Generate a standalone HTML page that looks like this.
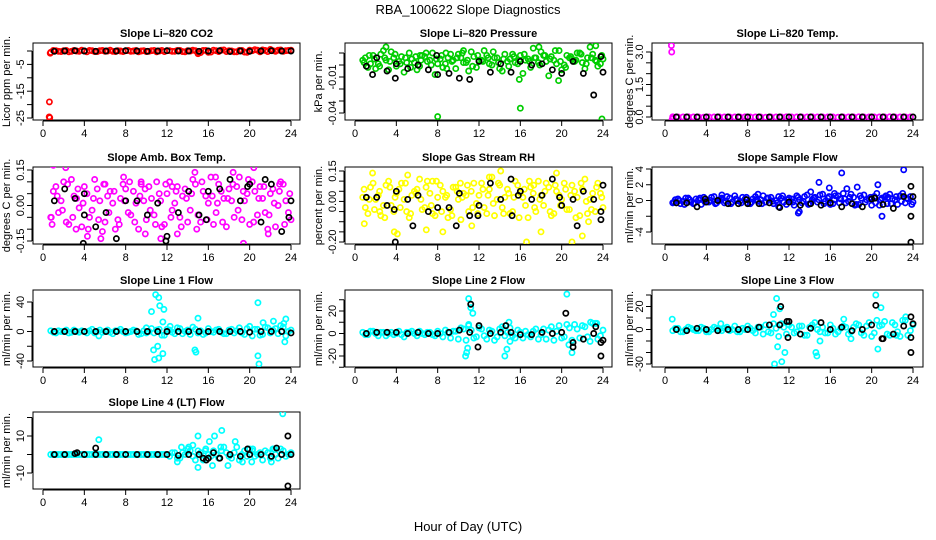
<!DOCTYPE html>
<html><head><meta charset="utf-8"><title>RBA_100622 Slope Diagnostics</title>
<style>
html,body{margin:0;padding:0;background:#fff;}
svg{display:block;font-family:"Liberation Sans",Arial,sans-serif;}
</style></head>
<body>
<svg id="chart" width="936" height="540" viewBox="0 0 936 540" xmlns="http://www.w3.org/2000/svg">
<rect x="0" y="0" width="936" height="540" fill="#fff"/>
<text x="468" y="14" text-anchor="middle" font-size="13">RBA_100622  Slope Diagnostics</text>
<text x="468" y="531" text-anchor="middle" font-size="13">Hour of Day (UTC)</text>
</svg>
<script>
// shared categories
const hoursC = [0.75,1.25,1.75,2.25,2.75,3.25,3.75,4.25,4.75,5.25,5.75,6.25,6.75,7.25,7.75,8.25,8.75,9.25,9.75,10.25,10.75,11.25,11.75,12.25,12.75,13.25,13.75,14.25,14.75,15.25,15.75,16.25,16.75,17.25,17.75,18.25,18.75,19.25,19.75,20.25,20.75,21.25,21.75,22.25,22.75,23.25,23.75];
const hoursC2 = [1.0,1.5,2.0,2.5,3.0,3.5,4.0,4.5,5.0,5.5,6.0,6.5,7.0,7.5,8.0,8.5,9.0,9.5,10.0,10.5,11.0,11.5,12.0,12.5,13.0,13.5,14.0,14.5,15.0,15.5,16.0,16.5,17.0,17.5,18.0,18.5,19.0,19.5,20.0,20.5,21.0,21.5,22.0,22.5,23.0,23.5,24.0];
const hoursC3 = [0.88,1.38,1.88,2.38,2.88,3.38,3.88,4.38,4.88,5.38,5.88,6.38,6.88,7.38,7.88,8.38,8.88,9.38,9.88,10.38,10.88,11.38,11.88,12.38,12.88,13.38,13.88,14.38,14.88,15.38,15.88,16.38,16.88,17.38,17.88,18.38,18.88,19.38,19.88,20.38,20.88,21.38,21.88,22.38,22.88,23.38,23.88];
const hoursK = [1.1,2.1,3.1,4.0,5.1,6.1,7.1,8.0,9.1,10.1,11.1,12.0,13.1,14.1,15.1,16.0,17.1,18.1,19.1,20.0,21.1,22.1,23.1,24.0];
const xTicks = [0,4,8,12,16,20,24];

// Panel 1: CO2
const co2C = [-0.5,0.1,-0.2,0.2,-0.1,0,0.3,-0.3,0.1,-0.2,0.2,0,-0.1,0.1,-0.2,0.2,0,-0.3,0.1,-0.1,0.2,0,-0.2,0.1,-0.1,0.2,-0.3,0,0.1,-0.6,0.2,-0.4,0.1,0.3,-0.2,0,-0.3,0.2,-0.5,0.1,0.3,0.4,-0.2,0.1,0.3,-0.1,0.2];
const co2C2 = [0.2,-0.1,0.1,-0.3,0.2,-0.1,0,0.2,-0.2,0.1,-0.1,0.3,-0.2,0,0.1,-0.1,0.2,0,-0.2,0.1,-0.3,0.2,0.1,-0.1,0.2,-0.2,0.1,0.3,-0.4,0.2,-0.5,0.3,-0.2,0.4,0.1,-0.3,0.2,-0.4,0.3,0.5,-0.3,0.2,0.6,-0.1,0.4,0.1,0.3];
const co2X = [[0.62,-19],[0.6,-24.6],[0.65,-24.9],[0.7,-0.8],[15,-1.0]];
const co2K = [-0.1,0,0.1,0,-0.1,0,0,0.1,0,-0.1,0,0.1,0,0,-0.1,0,0.1,-0.2,0,-0.1,0,0.1,0,0];
const co2KX = [];
// Panel 2: Pressure
const presC = [0.004,-0.002,0.008,0.001,0.012,-0.004,0.006,0.003,-0.006,0.01,0.002,-0.001,0.007,0.004,-0.008,0.005,0.001,0.009,-0.003,0.006,0.002,0.011,-0.002,0.004,0.008,0,0.006,-0.005,0.003,0.009,0.001,-0.007,0.005,0.014,0.002,0.008,-0.009,0.004,0.012,0,0.006,0.003,0.01,-0.003,0.015,0.004,0.001];
const presC2 = [0.006,0.001,-0.003,0.009,0.004,0.011,-0.001,0.007,0.002,0.005,-0.004,0.008,0.003,0.01,0.001,-0.002,0.006,0.004,0.009,0.002,-0.005,0.007,0.004,0.012,0.001,0.006,-0.003,0.009,0.005,0.002,0.008,0.004,-0.002,0.006,0.011,0.003,0.007,0.001,-0.004,0.008,0.005,0.01,0.002,0.006,0.009,-0.001,0.005];
const presC3 = [0.002,0.008,0.005,-0.001,0.006,0.003,0.009,0.001,0.006,-0.002,0.007,0.004,0.01,0,0.005,0.008,-0.003,0.003,0.006,0.01,0.004,-0.001,0.008,0.003,0.006,0.011,0.002,0.005,-0.001,0.007,0.004,0.009,0.003,0.006,0,0.008,0.005,0.012,0.003,-0.002,0.007,0.004,0.009,0.001,0.006,0.003,0.008];
const presX = [[8,-0.043],[16,-0.036],[23.9,-0.045],[15.9,-0.012],[19.7,-0.013],[3,0.015],[17.8,0.015],[23.3,0.016],[6.3,0.008],[8.8,0.01],[10.5,0.012]];
const presK = [-0.001,0.006,-0.005,0.001,-0.003,0,-0.004,-0.008,-0.007,-0.011,-0.012,0.003,-0.006,0.001,-0.006,0.003,0,0.001,-0.004,-0.007,0.003,-0.007,-0.025,-0.006];
const presKX = [[23.8,0.007],[7.9,0.008],[1.7,-0.008],[3.9,-0.011]];
// Panel 3: Li-820 Temp
const tmpC = [0.01,0,0,0.01,0,0,-0.01,0,0,0.01,0,0,0,0,0.01,0,0,0,-0.01,0,0,0,0.01,0,0,0,0,0.01,0,0,0,0,-0.01,0,0,0,0.01,0,0,0,0,0,0.01,0,0,0,0];
const tmpX = [[0.62,3.3],[0.65,3.0],[0.7,-0.1],[0.75,-0.05]];
const tmpK = [0,0,0,0,0,0,0,0,0,0,0,0,0,0,0,0,0,0,0,0,0,0,0,0];
const tmpKX = [];
// Panel 4: Amb. Box Temp
const ambC = [-0.05,0.08,0.02,-0.07,0.11,0.03,-0.09,0.05,-0.02,0.07,-0.11,0.04,0.01,-0.06,0.09,-0.03,0.06,-0.1,0.02,0.08,-0.04,0.05,-0.08,0.1,0.01,-0.05,0.07,-0.02,0.09,-0.07,0.04,0.12,-0.03,0.06,-0.09,0.02,0.08,-0.06,0.05,0.1,-0.04,0.03,-0.1,0.07,0,0.09,-0.03];
const ambC2 = [0.06,-0.03,0.1,-0.08,0.04,-0.01,0.08,-0.05,0.11,0.02,-0.07,0.06,-0.1,0.03,0.07,-0.04,0.01,0.09,-0.06,0.03,0.1,-0.09,0.05,-0.02,0.08,0.04,-0.07,0.11,-0.04,0.06,0.01,-0.08,0.09,0.03,0.07,-0.05,0.12,0.02,-0.08,0.06,0.08,-0.03,0.05,-0.09,0.1,0.02,-0.06];
const ambC3 = [-0.08,0.04,-0.02,0.09,-0.05,0.07,0.01,-0.1,0.03,-0.06,0.09,-0.03,0.06,-0.08,0.02,0.1,-0.07,0.04,0.07,-0.02,-0.08,0.02,0.09,-0.05,0.06,-0.09,0.03,0.05,-0.1,0.1,-0.06,0.04,0.01,-0.07,0.03,0.09,-0.02,0.06,0.11,-0.07,0.03,0.08,-0.04,0.01,0.06,-0.08,0.05];
const ambX = [[1,0.17],[1.8,0.2],[2.2,0.16],[4.3,-0.13],[5.6,-0.14],[9.9,-0.12],[11.4,-0.14],[14.7,0.14],[19.4,-0.16],[20.4,0.16],[21.8,-0.12],[13,-0.12],[16.7,0.12],[18.4,0.14],[7.8,0.12],[0.8,-0.05],[3.2,-0.1],[6,0.09],[9.5,0.1],[12.5,0.08],[22.9,0.09]];
const ambK = [0.02,0.07,0.03,0.05,-0.09,-0.03,-0.14,0.02,0.02,-0.04,0.01,-0.13,-0.03,0.06,-0.04,0.06,0.07,0.11,0.02,0.09,-0.07,0.09,-0.11,0.02];
const ambKX = [[3.9,-0.16],[11.9,-0.15],[15.8,-0.06],[23.8,-0.05],[4,-0.04],[19.8,0.08],[21.5,0.11]];
// Panel 5: Gas Stream RH
const rhC = [0.02,-0.06,0.09,0.03,-0.02,0.1,-0.05,0.06,0.01,-0.08,0.05,0.11,-0.03,0.04,-0.07,0.08,0.02,-0.04,0.07,-0.09,0.03,0.05,-0.01,0.09,-0.06,0.12,0.01,-0.03,0.06,-0.05,0.08,0.02,-0.08,0.04,0.1,-0.02,0.07,-0.06,0.03,0.09,-0.04,0.05,-0.07,0.11,0.01,-0.05,0.04];
const rhC2 = [-0.03,0.07,0.01,-0.07,0.08,-0.02,0.04,0.09,-0.05,0.03,0.06,-0.04,0.1,-0.06,0.02,0.05,-0.08,0.07,0.01,0.04,-0.05,0.09,0.03,-0.03,0.06,-0.07,0.08,0.02,-0.06,0.1,0.04,-0.02,0.07,-0.05,0.03,0.09,-0.07,0.05,0.01,-0.04,0.08,0.02,0.06,-0.06,0.04,0.09,-0.03];
const rhC3 = [0.06,0.01,-0.04,0.05,-0.08,0.07,0.02,-0.03,0.09,-0.06,0.04,0.01,0.07,-0.02,0.1,-0.05,0.03,-0.07,0.05,0.02,0.08,-0.03,-0.06,0.06,0.03,-0.01,0.09,-0.06,0.04,0.02,-0.08,0.06,0.1,-0.03,0.01,0.05,-0.05,0.08,-0.02,0.06,0.03,-0.08,0.09,0,-0.04,0.07,0.02];
const rhX = [[0.9,-0.11],[1.7,0.14],[3.8,-0.15],[4.1,-0.16],[5.1,0.13],[6.9,-0.14],[8.5,-0.15],[11.3,-0.12],[14.1,0.15],[16.6,-0.2],[18,-0.15],[19.5,0.14],[21,-0.2],[22,-0.17],[22.6,-0.1],[13,0.12],[2.4,-0.05],[7.5,0.1],[10.2,0.09],[17.3,0.08]];
const rhK = [0.02,0.02,-0.02,0.05,0.01,0.03,-0.05,-0.03,-0.03,0.04,-0.07,-0.02,0.09,0.01,0.11,0.05,0.01,0.03,0.11,-0.02,0.01,0.05,0.01,0.08];
const rhKX = [[3.9,-0.2],[5.6,-0.12],[9.8,-0.12],[11.9,-0.07],[15.2,-0.07],[21.5,-0.12],[23.8,-0.09],[23.8,-0.05],[3.8,-0.04],[15.8,0.03],[19.8,0.02]];
// Panel 6: Sample Flow
const sfC = [-0.3,0.2,-0.1,0.3,-0.4,0.1,0.4,-0.2,0.5,0,-0.3,0.3,0.6,-0.1,0.2,-0.4,0.5,0.1,-0.2,0.4,0,0.3,-0.5,0.2,0.6,-0.3,0.7,0.1,-0.2,0.8,0.3,-0.4,0.6,0.9,-0.1,0.4,-0.5,0.7,0.2,0.5,-0.6,0.4,0.8,0.1,0.6,-0.3,0.5];
const sfC2 = [0.1,-0.4,0.3,-0.2,0.2,-0.5,0,0.4,-0.3,0.3,0.5,-0.2,0,0.4,-0.3,0.2,-0.1,0.6,0.3,-0.4,0.5,-0.2,0.3,-0.6,0.1,0.5,-0.4,0.4,0.7,-0.1,-0.5,0.6,0.2,-0.3,0.8,-0.5,0.3,0.1,-0.6,0.9,0.3,-0.4,0.2,-0.5,0.9,0.2,-0.2];
const sfC3 = [-0.2,0,-0.5,0.1,-0.3,0.3,-0.2,0,-0.4,0.2,-0.1,-0.4,0.2,-0.3,0.4,-0.2,0.1,-0.4,0.3,-0.1,-0.3,0.6,0.1,-0.2,0.4,-0.1,-0.5,0.3,0.1,-0.4,0.5,0.1,-0.3,0.2,0.4,-0.6,0.6,-0.2,0.4,-0.3,0.1,0.6,-0.4,0.5,-0.1,0.3,-0.5];
const sfX = [[12.9,-1.6],[13,-1.4],[14.1,1.1],[14.9,2.3],[15.9,1.6],[16.4,0.9],[17.1,3.5],[17.6,1.5],[18.6,1.7],[20.6,2.0],[21,-2],[23.1,3.9],[21.6,0.4],[11,-0.8],[5.5,0.7],[9,0.8]];
const sfK = [-0.3,-0.3,-0.8,-0.2,0,-0.4,-0.4,-0.4,-0.4,-0.3,-0.9,-0.2,-0.6,-0.4,-0.6,-0.3,-0.8,-0.4,-0.8,0.2,-0.5,-1.0,0.5,0.5];
const sfKX = [[23.8,-2.0],[23.8,-5.3],[23.8,1.8],[20.3,0.3],[3.9,0.2],[7.9,0.1]];
// Panel 7: Line 1 Flow
const l1C = [1,-2,0,2,-1,0,1,-2,3,0,-1,2,-3,1,0,-1,2,-4,1,0,-2,3,-5,2,-3,4,0,-4,3,1,-2,0,2,-1,-3,3,1,-2,4,-6,3,-4,5,2,-3,6,0];
const l1C2 = [-1,1,0,-2,2,-1,0,1,-2,2,0,-1,1,3,-2,0,1,-3,-2,4,2,-5,3,-1,5,-3,2,6,-2,-4,4,-1,3,-3,2,-2,5,-4,7,3,-5,6,-2,4,8,-6,2];
const l1X = [[10.5,27],[10.9,50],[11.2,46],[11.3,35],[11.7,30],[11.1,-20],[10.7,-25],[10.8,-38],[11.2,-36],[11.6,-30],[11.6,13],[14.7,-25],[14.8,-28],[15,18],[20.8,39],[20.8,-33],[20.9,-44],[21.3,12],[22.3,14],[23.5,17],[23.4,-14],[23.3,11],[10,5],[12.3,7],[5.4,-6]];
const l1K = [0,0,0,0,0,0,0,0,0,0,0,0,0,0,0,0,0,0,0,-1,0,0,0,-2];
const l1KX = [];
// Panel 8: Line 2 Flow
const l2C = [1,-1,2,-2,1,0,-1,2,-3,1,0,2,-1,1,-2,0,3,-4,2,5,-6,3,-3,4,-5,2,-3,6,1,-2,3,-4,-1,2,-5,4,3,-6,7,-3,5,8,-4,6,-7,9,-2];
const l2C2 = [-1,2,0,1,-2,1,0,-1,1,2,-2,0,1,-1,2,-3,1,2,-5,4,7,-4,5,-2,3,-6,4,-2,5,-4,1,2,-3,4,-1,-5,6,2,-4,8,-6,4,7,-3,9,-5,3];
const l2X = [[11,31],[11.2,23],[11.4,18],[11.5,-36],[10.7,-20],[10.9,-13],[10.8,-17],[14.5,-20],[14.7,-14],[14.9,10],[15,-7],[20.5,35],[20.7,-10],[21,-17],[22.8,10],[23.4,9],[11,8]];
const l2K = [0,1,1,1,0,1,0,0,1,3,1,7,0,1,1,-1,-1,1,0,1,-8,-5,0,-6];
const l2KX = [[11.2,26],[11.9,-12],[14.6,7],[20.4,18],[21.1,-12],[23.3,6],[23.8,-20],[23.8,-8]];
// Panel 9: Line 3 Flow
const l3C = [-1,1,-2,2,0,-1,1,-2,2,0,1,-1,3,-2,0,1,-3,2,4,-3,1,5,-4,2,-2,3,-5,4,0,2,-3,1,-2,3,-4,2,4,-5,6,-3,3,7,-5,4,-6,8,-1];
const l3C2 = [1,-2,0,1,-1,2,-2,0,1,-1,2,0,-2,1,3,-1,2,-4,-2,5,-6,2,4,-3,3,-5,2,6,-2,-3,4,-4,1,2,-2,5,-3,3,-6,8,4,-4,6,-2,8,-5,4];
const l3X = [[0.7,9],[10.5,13],[10.8,27],[11.1,18],[10.6,-30],[11.3,-28],[11.6,-20],[10.9,-15],[14.6,-20],[14.7,-23],[15,-10],[17.3,9],[18,-8],[20.4,30],[20.6,-17],[20.9,19],[22.4,-5],[23.3,11],[5.4,5]];
const l3K = [0,-1,1,0,-1,0,0,0,2,4,4,7,-4,1,6,0,2,-1,0,4,-8,-4,3,5];
const l3KX = [[11.2,20],[11.8,7],[11.9,-7],[20.4,21],[21,-8],[23.8,11],[23.8,-7],[23.8,-20]];
// Panel 10: Line 4 (LT) Flow
const l4C = [0,0,0,0,0,0,0,0,0,0,0,0,0,0,0,0,0,0,0,0,0,0,0,-1,1,-2,0,2,-3,1,3,-1,0,2,1,-2,4,0,-1,2,0,-3,1,3,-2,2,0];
const l4C2 = [0,0,0,0,0,0,0,0,0,0,0,0,0,0,0,0,0,0,0,0,0,0,0,1,-2,1,3,-1,2,-3,0,2,-2,4,-1,1,-3,2,3,-1,1,2,-2,0,3,-1,1];
const l4X = [[5.4,8],[13,-4],[13.4,4],[14.1,4],[14.5,5],[15,-7],[15,10],[15.7,2],[16.1,7],[16.4,-6],[16.6,10],[17.2,4],[17.3,13],[17.9,-6],[18.6,7],[19.3,-4],[20.2,-4],[20.3,3],[22.1,-4],[23.2,22],[22.4,3]];
const l4K = [0,0,0.5,0,0,0,0,0,0,0,0,0,-0.5,0,0,-2,-2,0,-1,0,0,-1,0,0];
const l4KX = [[3.3,1],[5.1,3.5],[15.5,-2],[15.8,-3],[16.5,1],[17.1,-2],[19.8,3],[22.6,3.5],[23.7,10],[23.7,-17],[22.1,-1]];

// Panel definitions: layout (not data)
const cols = [{l:33,r:300,x0:43,x24:291,yl:10},{l:345,r:612,x0:355,x24:603,yl:322},{l:652,r:923,x0:665,x24:913,yl:633}];
const rowTop = [43,167,290,412];
const H = 77;
const panels = [
 {name:'co2',title:'Slope Li\u2013820 CO2',ylab:'Licor ppm per min.',c:0,r:0,col:'#ff0000',v1:0,y1:51,v2:-25,y2:118,
  ticks:[0,-5,-10,-15,-20,-25],labels:['','-5','','-15','','-25'],S:[[hoursC,co2C],[hoursC2,co2C2]],X:co2X,K:co2K,KX:co2KX},
 {name:'pressure',title:'Slope Li\u2013820 Pressure',ylab:'kPa per min.',c:1,r:0,col:'#00cd00',v1:0.01,y1:53,v2:-0.04,y2:113,
  ticks:[0.01,0,-0.01,-0.02,-0.03,-0.04],labels:['','','-0.01','','','-0.04'],S:[[hoursC,presC],[hoursC2,presC2],[hoursC3,presC3]],X:presX,K:presK,KX:presKX},
 {name:'li820-temp',title:'Slope Li\u2013820 Temp.',ylab:'degrees C per min.',c:2,r:0,col:'#ff00ff',v1:3,y1:52,v2:0,y2:117,
  ticks:[3,2.5,2,1.5,1,0.5,0],labels:['3.0','','','1.5','','','0.0'],S:[[hoursC,tmpC]],X:tmpX,K:tmpK,KX:tmpKX},
 {name:'amb-box-temp',title:'Slope Amb. Box Temp.',ylab:'degrees C per min.',c:0,r:1,col:'#ff00ff',v1:0.15,y1:170,v2:-0.15,y2:241,
  ticks:[0.15,0.1,0.05,0,-0.05,-0.1,-0.15],labels:['0.15','','','0.00','','','-0.15'],S:[[hoursC,ambC],[hoursC2,ambC2],[hoursC3,ambC3]],X:ambX,K:ambK,KX:ambKX},
 {name:'gas-stream-rh',title:'Slope Gas Stream RH',ylab:'percent per min.',c:1,r:1,col:'#ffff00',v1:0.15,y1:171,v2:-0.2,y2:242,
  ticks:[0.15,0.1,0.05,0,-0.05,-0.1,-0.15,-0.2],labels:['0.15','','','0.00','','','','-0.20'],S:[[hoursC,rhC],[hoursC2,rhC2],[hoursC3,rhC3]],X:rhX,K:rhK,KX:rhKX},
 {name:'sample-flow',title:'Slope Sample Flow',ylab:'ml/min per min.',c:2,r:1,col:'#0000ff',v1:4,y1:169,v2:-4,y2:232,
  ticks:[4,2,0,-2,-4],labels:['4','2','0','','-4'],S:[[hoursC,sfC],[hoursC2,sfC2],[hoursC3,sfC3]],X:sfX,K:sfK,KX:sfKX},
 {name:'line1-flow',title:'Slope Line 1 Flow',ylab:'ml/min per min.',c:0,r:2,col:'#00ffff',v1:40,y1:302,v2:-40,y2:361,
  ticks:[40,20,0,-20,-40],labels:['40','','0','','-40'],S:[[hoursC,l1C],[hoursC2,l1C2]],X:l1X,K:l1K,KX:l1KX},
 {name:'line2-flow',title:'Slope Line 2 Flow',ylab:'ml/min per min.',c:1,r:2,col:'#00ffff',v1:20,y1:311,v2:-20,y2:356,
  ticks:[30,20,10,0,-10,-20,-30],labels:['','20','','0','','-20',''],S:[[hoursC,l2C],[hoursC2,l2C2]],X:l2X,K:l2K,KX:l2KX},
 {name:'line3-flow',title:'Slope Line 3 Flow',ylab:'ml/min per min.',c:2,r:2,col:'#00ffff',v1:30,y1:295,v2:-30,y2:364,
  ticks:[30,20,10,0,-10,-20,-30],labels:['','20','','0','','','-30'],S:[[hoursC,l3C],[hoursC2,l3C2]],X:l3X,K:l3K,KX:l3KX},
 {name:'line4-flow',title:'Slope Line 4 (LT) Flow',ylab:'ml/min per min.',c:0,r:3,col:'#00ffff',v1:10,y1:436,v2:-10,y2:473,
  ticks:[20,10,0,-10],labels:['','10','','-10'],S:[[hoursC,l4C],[hoursC2,l4C2]],X:l4X,K:l4K,KX:l4KX}
];

const NS='http://www.w3.org/2000/svg';
const svg=document.getElementById('chart');
function mk(tag,attrs,parent){const e=document.createElementNS(NS,tag);for(const k in attrs)e.setAttribute(k,attrs[k]);(parent||svg).appendChild(e);return e;}

panels.forEach(p=>{
  const cl=cols[p.c], top=rowTop[p.r], bot=top+H;
  const g=mk('g',{});
  
  
  const xs=h=>cl.x0+(h/24)*(cl.x24-cl.x0);
  const ys=v=>p.y1+(v-p.v1)*(p.y2-p.y1)/(p.v2-p.v1);
  const cid='clip-'+p.name;
  const cp=mk('clipPath',{id:cid},g);
  mk('rect',{x:cl.l,y:top,width:cl.r-cl.l,height:H},cp);
  const box=mk('rect',{x:cl.l,y:top,width:cl.r-cl.l,height:H,fill:'none',stroke:'#000','stroke-width':1},g);
  
  
  const t=mk('text',{x:(cl.l+cl.r)/2,y:top-6,'text-anchor':'middle','font-size':11,'font-weight':'bold'},g);
  t.textContent=p.title;
  
  
  const xa=mk('g',{},g);
  
  
  mk('line',{x1:xs(xTicks[0]),x2:xs(xTicks[xTicks.length-1]),y1:bot+1,y2:bot+1,stroke:'#000'},xa);
  xTicks.forEach(v=>{
    mk('line',{x1:xs(v),x2:xs(v),y1:bot+1,y2:bot+6,stroke:'#000'},xa);
    const tl=mk('text',{x:xs(v),y:bot+17,'text-anchor':'middle','font-size':11},xa);
    tl.textContent=v;
    
    
  });
  const ya=mk('g',{},g);
  
  
  mk('line',{x1:cl.l-1,x2:cl.l-1,y1:ys(p.ticks[0]),y2:ys(p.ticks[p.ticks.length-1]),stroke:'#000'},ya);
  p.ticks.forEach((v,i)=>{
    const y=ys(v);
    mk('line',{x1:cl.l-6,x2:cl.l-1,y1:y,y2:y,stroke:'#000'},ya);
    if(p.labels[i]){
      const tl=mk('text',{x:cl.l-9,y:y,'text-anchor':'middle','font-size':11,transform:'rotate(-90 '+(cl.l-9)+' '+y+')'},ya);
      tl.textContent=p.labels[i];
      
      
    }
  });
  const cy=(top+bot)/2;
  const yt=mk('text',{x:cl.yl,y:cy,'text-anchor':'middle','font-size':11,transform:'rotate(-90 '+cl.yl+' '+cy+')'},g);
  yt.textContent=p.ylab;
  
  
  const pg=mk('g',{'clip-path':'url(#'+cid+')',fill:'none','stroke-width':1.7},g);
  
  
  p.S.forEach(s=>{
    const hrs=s[0], vals=s[1];
    const n=Math.min(hrs.length,vals.length);
    for(let i=0;i<n;i++){
      const c=mk('circle',{cx:xs(hrs[i]),cy:ys(vals[i]),r:2.6,stroke:p.col},pg);
      
      
    }
  });
  p.X.forEach(d=>{
    const c=mk('circle',{cx:xs(d[0]),cy:ys(d[1]),r:2.6,stroke:p.col},pg);
    
    
  });
  const m=Math.min(p.K.length,hoursK.length);
  for(let i=0;i<m;i++){
    const c=mk('circle',{cx:xs(hoursK[i]),cy:ys(p.K[i]),r:2.6,stroke:'#000'},pg);
    
    
  }
  p.KX.forEach(d=>{
    const c=mk('circle',{cx:xs(d[0]),cy:ys(d[1]),r:2.6,stroke:'#000'},pg);
    
    
  });
});
</script>
</body></html>
